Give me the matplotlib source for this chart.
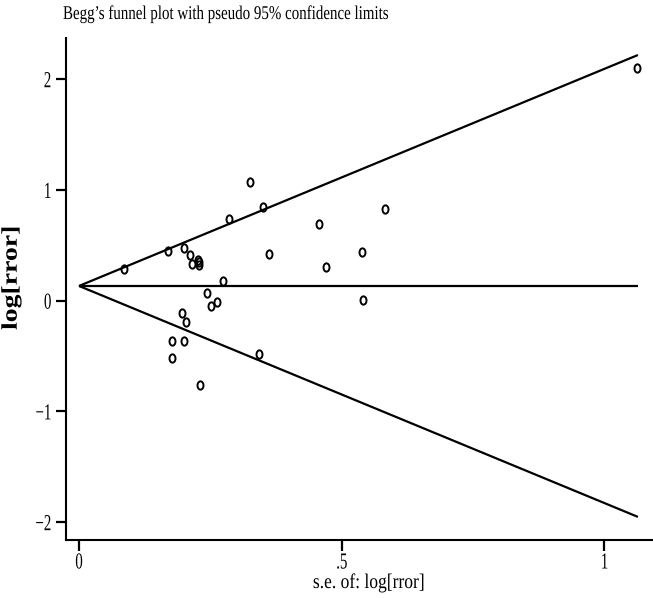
import numpy as np
import matplotlib
matplotlib.use("Agg")
import matplotlib.pyplot as plt
from matplotlib.path import Path
from matplotlib.transforms import Affine2D
from matplotlib.patheffects import AbstractPathEffect

# ---- data ----
se = [0.3255, 0.351, 0.286, 0.169, 0.199, 0.0857, 0.211, 0.2157, 0.227, 0.228,
      0.228, 0.362, 0.274, 0.243, 0.263, 0.252, 0.197, 0.204, 0.1765, 0.2005,
      0.1765, 0.343, 0.230, 0.457, 0.583, 0.538, 0.471, 0.541, 1.063]
logrr = [1.074, 0.843, 0.735, 0.451, 0.476, 0.284, 0.410, 0.331, 0.367, 0.347,
         0.325, 0.422, 0.178, 0.070, -0.014, -0.045, -0.111, -0.192, -0.364, -0.364,
         -0.515, -0.481, -0.758, 0.690, 0.828, 0.437, 0.304, 0.004, 2.104]
pooled = 0.133
se_max = 1.064
xticks = [0, 0.5, 1]
xticklabels = ["0", ".5", "1"]
yticks = [-2, -1, 0, 1, 2]
yticklabels = ["\u22122", "\u22121", "0", "1", "2"]
title = "Begg\u2019s funnel plot with pseudo 95% confidence limits"
xlabel = "s.e. of: log[rror]"
ylabel = "log[rror]"


class Condense(AbstractPathEffect):
    """Squeeze glyphs along the text direction (or across it)."""
    def __init__(self, sx=1.0, sy=1.0, anchor="center"):
        super().__init__()
        self.sx, self.sy, self.anchor = sx, sy, anchor

    def draw_path(self, renderer, gc, tpath, affine, rgbFace=None):
        ext = tpath.get_extents()
        if self.anchor == "left":
            cx = 0.0
        elif self.anchor == "right":
            cx = ext.x1
        else:
            cx = 0.5 * (ext.x0 + ext.x1)
        cy = 0.5 * (ext.y0 + ext.y1)
        t = Affine2D().translate(-cx, -cy).scale(self.sx, self.sy).translate(cx, cy) + affine
        renderer.draw_path(gc, tpath, t, rgbFace)


plt.rcParams["font.family"] = ["Liberation Serif", "DejaVu Serif"]

W, H = 653, 598
fig = plt.figure(figsize=(W / 100, H / 100), dpi=100)
ax = fig.add_axes([65.5 / W, (H - 540) / H, (W - 65.5) / W, (540 - 38) / H])

lw = 1.6
s_line = np.array([0.0, se_max])
ax.plot(s_line, pooled + 1.96 * s_line, color="black", lw=lw, solid_capstyle="butt")
ax.plot(s_line, pooled - 1.96 * s_line, color="black", lw=lw, solid_capstyle="butt")
ax.plot(s_line, [pooled, pooled], color="black", lw=lw, solid_capstyle="butt")

ell = Path.unit_circle().transformed(Affine2D().scale(0.72, 1.0))
ax.plot(se, logrr, linestyle="none", marker=ell, markersize=6.0,
        markerfacecolor="none", markeredgecolor="black", markeredgewidth=1.4)

ax.set_xlim(-0.0257, 1.0927)
ax.set_ylim(-2.161, 2.372)
for s in ["top", "right"]:
    ax.spines[s].set_visible(False)
for s in ["left", "bottom"]:
    ax.spines[s].set_linewidth(1.5)

ax.set_xticks(xticks)
ax.set_xticklabels(xticklabels, fontsize=16.5)
ax.set_yticks(yticks)
ax.set_yticklabels(yticklabels, fontsize=16.5)
ax.tick_params(axis="x", length=8, width=1.6, pad=1)
ax.tick_params(axis="y", length=7, width=1.6, pad=3)
for lbl in ax.get_xticklabels():
    lbl.set_path_effects([Condense(sx=0.65, anchor="center")])
for lbl in ax.get_yticklabels():
    lbl.set_path_effects([Condense(sx=0.65, anchor="right")])

t = fig.text(63 / W, 1 - 19 / H, title, fontsize=14, ha="left", va="baseline")
t.set_path_effects([Condense(sx=0.77, anchor="left")])

xl = fig.text(369 / W, 1 - 588 / H, xlabel, fontsize=15, ha="center", va="baseline")
xl.set_path_effects([Condense(sx=0.84, anchor="center")])

yl = fig.text(24 / W, 1 - 278 / H, ylabel, fontsize=20, fontweight="bold",
              rotation=90, ha="right", va="center")
yl.set_path_effects([Condense(sx=1.0, sy=0.8, anchor="center")])

fig.savefig("out.png", dpi=100)
